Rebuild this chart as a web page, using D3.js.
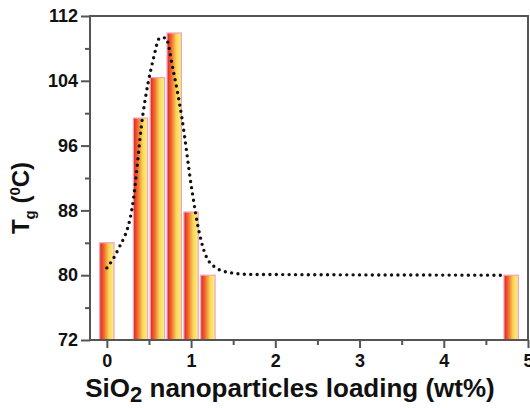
<!DOCTYPE html>
<html>
<head>
<meta charset="utf-8">
<script src="https://cdn.jsdelivr.net/npm/d3@7"></script>
<style>
  body { margin: 0; background: #fff; }
  text { font-family: Arial, "Liberation Sans", sans-serif; font-weight: bold; fill: #111; }
</style>
</head>
<body>
<svg id="chart"></svg>
<script>
const loadings = [0, 0.4, 0.6, 0.8, 1.0, 1.2, 4.8];
const tgValues = [84.0, 99.4, 104.4, 109.9, 87.8, 80.0, 80.0];

// dotted trend line
const trendX = [0, 0.13, 0.3, 0.43, 0.55, 0.63, 0.7, 0.78, 0.89, 1.01, 1.09, 1.22, 1.42, 1.7, 4.73];
const trendY = [80.9, 83.1, 88.3, 100.0, 106.6, 109.3, 109.3, 105.7, 99.5, 90.5, 85.6, 81.6, 80.4, 80.1, 80.0];

const xTicks = [0, 1, 2, 3, 4, 5];
const yTicks = [72, 80, 88, 96, 104, 112];

const width = 530;
const height = 408;
const margin = { top: 16, right: 2, bottom: 68, left: 90 };

const svg = d3.select('#chart')
  .attr('width', width)
  .attr('height', height);

const x = d3.scaleLinear()
  .domain([-0.2, 5.0])
  .range([margin.left, width - margin.right]);

const y = d3.scaleLinear()
  .domain([72, 112])
  .range([height - margin.bottom, margin.top]);

const defs = svg.append('defs');
const grad = defs.append('linearGradient')
  .attr('id', 'barGrad')
  .attr('x1', '0%').attr('x2', '100%')
  .attr('y1', '0%').attr('y2', '0%');
grad.append('stop').attr('offset', '0%').attr('stop-color', '#e01e24');
grad.append('stop').attr('offset', '30%').attr('stop-color', '#f06a2c');
grad.append('stop').attr('offset', '65%').attr('stop-color', '#f8d858');
grad.append('stop').attr('offset', '100%').attr('stop-color', '#faf08c');

const barW = x(0.17) - x(0);

svg.append('g')
  .selectAll('rect')
  .data(loadings)
  .enter()
  .append('rect')
  .attr('x', d => x(d) - barW / 2)
  .attr('y', (d, i) => y(tgValues[i]))
  .attr('width', barW)
  .attr('height', (d, i) => y(72) - y(tgValues[i]))
  .attr('fill', 'url(#barGrad)')
  .attr('stroke', '#f4a0c0')
  .attr('stroke-width', 1.2);

const line = d3.line()
  .x(d => x(d[0]))
  .y(d => y(d[1]))
  .curve(d3.curveMonotoneX);

svg.append('path')
  .datum(trendX.map((d, i) => [d, trendY[i]]))
  .attr('d', line)
  .attr('fill', 'none')
  .attr('stroke', '#111')
  .attr('stroke-width', 3.4)
  .attr('stroke-linecap', 'round')
  .attr('stroke-dasharray', '0 6.4');

// frame
const axisColor = '#555';
svg.append('rect')
  .attr('x', x(-0.2))
  .attr('y', y(112))
  .attr('width', x(5.0) - x(-0.2))
  .attr('height', y(72) - y(112))
  .attr('fill', 'none')
  .attr('stroke', axisColor)
  .attr('stroke-width', 2);

// y axis
const yAxis = svg.append('g')
  .attr('transform', `translate(${margin.left},0)`)
  .call(d3.axisLeft(y).tickValues(yTicks).tickSize(9).tickPadding(3).tickFormat(d3.format('d')));
yAxis.select('.domain').remove();
yAxis.selectAll('line').attr('stroke', axisColor).attr('stroke-width', 2);
yAxis.selectAll('text').style('font-size', '18px');

svg.append('g')
  .attr('transform', `translate(${margin.left},0)`)
  .call(d3.axisLeft(y).tickValues([76, 84, 92, 100, 108]).tickSize(5).tickFormat(''))
  .call(g => g.select('.domain').remove())
  .selectAll('line').attr('stroke', axisColor).attr('stroke-width', 2);

// x axis
const xAxis = svg.append('g')
  .attr('transform', `translate(0,${height - margin.bottom})`)
  .call(d3.axisBottom(x).tickValues(xTicks).tickSize(8).tickPadding(6).tickFormat(d3.format('d')));
xAxis.select('.domain').remove();
xAxis.selectAll('line').attr('stroke', axisColor).attr('stroke-width', 2);
xAxis.selectAll('text').style('font-size', '18px');

svg.append('g')
  .attr('transform', `translate(0,${height - margin.bottom})`)
  .call(d3.axisBottom(x).tickValues([0.5, 1.5, 2.5, 3.5, 4.5]).tickSize(5).tickFormat(''))
  .call(g => g.select('.domain').remove())
  .selectAll('line').attr('stroke', axisColor).attr('stroke-width', 2);

// axis titles
const xTitle = svg.append('text')
  .attr('x', 290)
  .attr('y', 397)
  .attr('text-anchor', 'middle')
  .style('font-size', '26px');
xTitle.append('tspan').text('SiO');
xTitle.append('tspan').attr('dy', 5).style('font-size', '22px').text('2');
xTitle.append('tspan').attr('dy', -5).text(' nanoparticles loading (wt%)');

const yTitle = svg.append('text')
  .attr('transform', 'translate(29,198) rotate(-90)')
  .attr('text-anchor', 'middle')
  .style('font-size', '24px');
yTitle.append('tspan').text('T');
yTitle.append('tspan').attr('dy', 6).style('font-size', '15px').text('g');
yTitle.append('tspan').attr('dy', -6).text(' (');
yTitle.append('tspan').attr('dy', -9).style('font-size', '15px').text('0');
yTitle.append('tspan').attr('dy', 9).text('C)');
</script>
</body>
</html>
